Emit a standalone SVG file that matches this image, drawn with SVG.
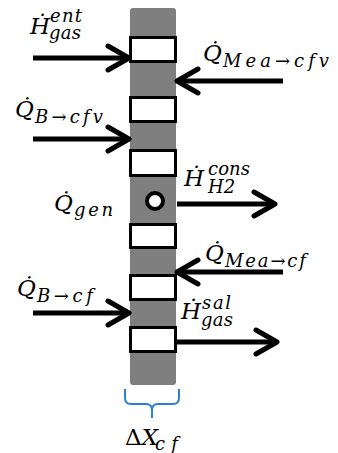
<svg xmlns="http://www.w3.org/2000/svg" width="338" height="453" viewBox="0 0 338 453">
  <style>
    .m { font-family: "DejaVu Serif", "Liberation Serif", serif; font-style: italic; fill: #000; }
    .big { font-size: 23px; }
    .sm { font-size: 18px; }
    .cell { fill: #fff; stroke: #000; stroke-width: 3; }
    .arrow { fill: none; stroke: #000; stroke-width: 5; marker-end: url(#head); }
  </style>
  <defs>
    <marker id="head" markerUnits="userSpaceOnUse" markerWidth="30" markerHeight="30" viewBox="0 0 30 30" refX="26" refY="15" orient="auto">
      <path d="M5,3 L26,15 L5,27" fill="none" stroke="#000" stroke-width="5" stroke-linecap="round" stroke-linejoin="round"/>
    </marker>
  </defs>
  <rect width="338" height="453" fill="#fff"/>

  <!-- control volume strip with discretised cells -->
  <g id="strip">
    <rect x="130" y="8" width="46" height="377" rx="3" fill="#7f7f7f"/>
    <rect class="cell" x="130.5" y="37.5" width="45" height="24"/>
    <rect class="cell" x="130.5" y="97.5" width="45" height="24"/>
    <rect class="cell" x="130.5" y="150.5" width="45" height="25"/>
    <rect class="cell" x="130.5" y="224.5" width="45" height="23"/>
    <rect class="cell" x="130.5" y="275.5" width="45" height="24"/>
    <rect class="cell" x="130.5" y="327.5" width="45" height="24"/>
  </g>

  <g id="source">
    <circle cx="155" cy="201" r="8" fill="#fff" stroke="#000" stroke-width="4"/>
  </g>

  <g id="connectors">
    <line class="arrow" x1="33" y1="58" x2="129" y2="58"/>
    <line class="arrow" x1="283" y1="81" x2="177" y2="81"/>
    <line class="arrow" x1="33" y1="139" x2="129" y2="139"/>
    <line class="arrow" x1="177" y1="204" x2="275" y2="204"/>
    <line class="arrow" x1="283" y1="272" x2="177" y2="272"/>
    <line class="arrow" x1="33" y1="313" x2="129" y2="313"/>
    <line class="arrow" x1="177" y1="342" x2="277" y2="342"/>
  </g>

  <g id="width-brace">
    <path d="M125,389 V398 Q125,404 131,404 H146 Q152,404 152,410 V418 M152,410 Q152,404 158,404 H173 Q179,404 179,398 V389" fill="none" stroke="#2f7fd0" stroke-width="2"/>
  </g>

  <g id="labels">
    <g id="h-gas-ent">
      <text class="m big" x="30" y="34">Ḣ</text>
      <text class="m sm" x="50" y="22" textLength="32">ent</text>
      <text class="m sm" x="49" y="39" textLength="32">gas</text>
    </g>
    <g id="q-mea-cfv">
      <text class="m big" x="203" y="61">Q̇</text>
      <text class="m sm" x="223" y="67" textLength="106">Mea→cfv</text>
    </g>
    <g id="q-b-cfv">
      <text class="m big" x="15" y="117">Q̇</text>
      <text class="m sm" x="35" y="123" textLength="68">B→cfv</text>
    </g>
    <g id="q-gen">
      <text class="m big" x="54" y="211">Q̇</text>
      <text class="m sm" x="74" y="216" textLength="39">gen</text>
    </g>
    <g id="h-h2-cons">
      <text class="m big" x="184" y="186">Ḣ</text>
      <text class="m sm" x="208" y="175" textLength="42">cons</text>
      <text class="m sm" x="208" y="193" font-size="17">H2</text>
    </g>
    <g id="q-mea-cf">
      <text class="m big" x="205" y="261">Q̇</text>
      <text class="m sm" x="225" y="267" textLength="81">Mea→cf</text>
    </g>
    <g id="q-b-cf">
      <text class="m big" x="17" y="296">Q̇</text>
      <text class="m sm" x="37" y="302" textLength="56">B→cf</text>
    </g>
    <g id="h-gas-sal">
      <text class="m big" x="181" y="319">Ḣ</text>
      <text class="m sm" x="202" y="309" textLength="29">sal</text>
      <text class="m sm" x="201" y="326" textLength="32">gas</text>
    </g>
    <g id="dx-cf">
      <text class="m big" x="125" y="445"><tspan font-style="normal">Δ</tspan>X</text>
      <text class="m sm" x="155" y="450" textLength="23">cf</text>
    </g>
  </g>
</svg>
